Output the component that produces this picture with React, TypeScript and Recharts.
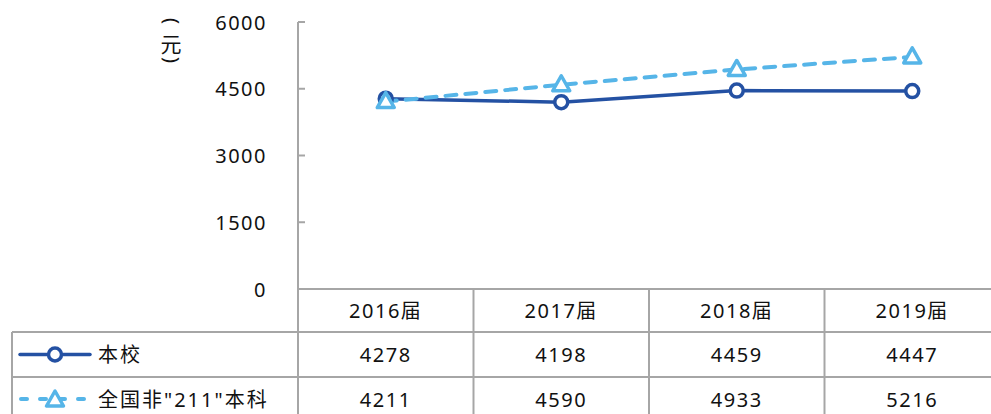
import React from "react";
import { LineChart, Line, XAxis, YAxis } from "recharts";

const categories = ["2016届", "2017届", "2018届", "2019届"];
const schoolValues = [4278, 4198, 4459, 4447];
const nationalValues = [4211, 4590, 4933, 5216];
const yTicks = [0, 1500, 3000, 4500, 6000];
const seriesNames = ["本校", "全国非\"211\"本科"];
const unitParts = ["(", "元", ")"];

const DARK = "#2451a3";
const LIGHT = "#56b5e8";
const GRID = "#a6a6a6";
const FONT = "'Noto Sans', 'Noto Sans CJK SC', sans-serif";

const W = 1000;
const H = 470;
const PLOT_LEFT = 298;
const PLOT_TOP = 22;
const PLOT_BOTTOM = 289;
const HALF = (W - PLOT_LEFT) / categories.length / 2;
const ROW1 = 43;
const ROW2 = 88;
const ROW3 = 132;
const TABLE_LEFT = 12;

const data = categories.map((c, i) => ({
  cat: c,
  school: schoolValues[i],
  national: nationalValues[i],
}));

const textStyle = { fontFamily: FONT, fontSize: 20, fill: "#111", letterSpacing: 1.5 };

function Triangle({ cx, cy }: any) {
  if (cx == null || cy == null) return null;
  return (
    <path
      d={`M${cx},${cy - 9} L${cx - 8.5},${cy + 6} L${cx + 8.5},${cy + 6} Z`}
      fill="#fff"
      stroke={LIGHT}
      strokeWidth={3.5}
      strokeLinejoin="round"
    />
  );
}

function LegendCell({ y, idx }: { y: number; idx: number }) {
  const cy = y;
  if (idx === 0) {
    return (
      <g>
        <line x1={20} x2={90} y1={cy} y2={cy} stroke={DARK} strokeWidth={3.5} strokeLinecap="round" />
        <circle cx={55} cy={cy} r={6.5} fill="#fff" stroke={DARK} strokeWidth={3.5} />
      </g>
    );
  }
  return (
    <g>
      <line x1={21} x2={90} y1={cy} y2={cy} stroke={LIGHT} strokeWidth={4} strokeDasharray="6 13" strokeLinecap="round" />
      <Triangle cx={55} cy={cy + 1} />
    </g>
  );
}

function TableTick(props: any) {
  const { x, y, payload, index } = props;
  const i = index ?? categories.indexOf(payload.value);
  const left = x - HALF;
  const right = x + HALF;
  return (
    <g>
      <line x1={right} x2={right} y1={y} y2={y + ROW3 + 10} stroke={GRID} strokeWidth={2} />
      {i === 0 && <line x1={left} x2={left} y1={y} y2={y + ROW3 + 10} stroke={GRID} strokeWidth={2} />}
      {[ROW1, ROW2, ROW3].map((r) => (
        <line key={r} x1={left} x2={right} y1={y + r} y2={y + r} stroke={GRID} strokeWidth={2} />
      ))}
      <text x={x} y={y + ROW1 / 2} textAnchor="middle" dominantBaseline="central" style={textStyle}>
        {payload.value}
      </text>
      <text x={x} y={y + (ROW1 + ROW2) / 2} textAnchor="middle" dominantBaseline="central" style={textStyle}>
        {schoolValues[i]}
      </text>
      <text x={x} y={y + (ROW2 + ROW3) / 2} textAnchor="middle" dominantBaseline="central" style={textStyle}>
        {nationalValues[i]}
      </text>
      {i === 0 && (
        <g>
          {[ROW1, ROW2, ROW3].map((r) => (
            <line key={r} x1={TABLE_LEFT} x2={left} y1={y + r} y2={y + r} stroke={GRID} strokeWidth={2} />
          ))}
          <line x1={TABLE_LEFT} x2={TABLE_LEFT} y1={y + ROW1} y2={y + ROW3 + 10} stroke={GRID} strokeWidth={2} />
          {seriesNames.map((name, k) => {
            const cy = y + (k === 0 ? (ROW1 + ROW2) / 2 : (ROW2 + ROW3) / 2);
            return (
              <g key={name}>
                <LegendCell y={cy} idx={k} />
                <text x={98} y={cy} dominantBaseline="central" style={{ ...textStyle, letterSpacing: 2 }}>
                  {name}
                </text>
              </g>
            );
          })}
        </g>
      )}
    </g>
  );
}

function YTick(props: any) {
  const { x, y, payload } = props;
  return (
    <g>
      <line x1={x} x2={x + 7} y1={y} y2={y} stroke={GRID} strokeWidth={2} />
      <text x={x - 31} y={y} textAnchor="end" dominantBaseline="central" style={textStyle}>
        {payload.value}
      </text>
    </g>
  );
}

// vertical unit label: parens turned 90deg, character upright
function UnitLabel(props: any) {
  const vb = props.viewBox || {};
  const cx = (vb.x ?? 0) + 171;
  const top = vb.y ?? PLOT_TOP;
  const st = { fontFamily: "'Noto Sans', sans-serif", fontSize: 20, fill: "#111" };
  return (
    <g>
      <text transform={`translate(${cx - 6},${top - 1}) rotate(90)`} textAnchor="middle" style={st}>
        {unitParts[0]}
      </text>
      <text x={cx} y={top + 22} textAnchor="middle" dominantBaseline="central" style={{ ...st, fontFamily: FONT, fontSize: 21 }}>
        {unitParts[1]}
      </text>
      <text transform={`translate(${cx - 6},${top + 38}) rotate(90)`} textAnchor="middle" style={st}>
        {unitParts[2]}
      </text>
    </g>
  );
}

export default function App() {
  return (
    <div style={{ position: "absolute", left: 0, top: 0, width: 991, height: 414, overflow: "hidden", background: "#fff" }}>
      <LineChart
        width={W}
        height={H}
        data={data}
        margin={{ top: PLOT_TOP, right: 0, bottom: 0, left: 0 }}
      >
        <XAxis
          dataKey="cat"
          height={H - PLOT_BOTTOM}
          padding={{ left: HALF, right: HALF }}
          axisLine={{ stroke: GRID, strokeWidth: 2 }}
          tickLine={false}
          tickSize={0}
          tickMargin={0}
          interval={0}
          tick={<TableTick />}
        />
        <YAxis
          width={PLOT_LEFT}
          domain={[0, 6000]}
          ticks={yTicks}
          axisLine={{ stroke: GRID, strokeWidth: 2 }}
          tickLine={false}
          tickSize={0}
          tickMargin={0}
          tick={<YTick />}
          label={<UnitLabel />}
        />
        <Line
          dataKey="school"
          stroke={DARK}
          strokeWidth={3.5}
          dot={{ r: 6.5, fill: "#fff", stroke: DARK, strokeWidth: 3.5 }}
          isAnimationActive={false}
        />
        <Line
          dataKey="national"
          stroke={LIGHT}
          strokeWidth={4}
          strokeDasharray="11 9"
          strokeLinecap="round"
          dot={<Triangle />}
          isAnimationActive={false}
        />
      </LineChart>
    </div>
  );
}
